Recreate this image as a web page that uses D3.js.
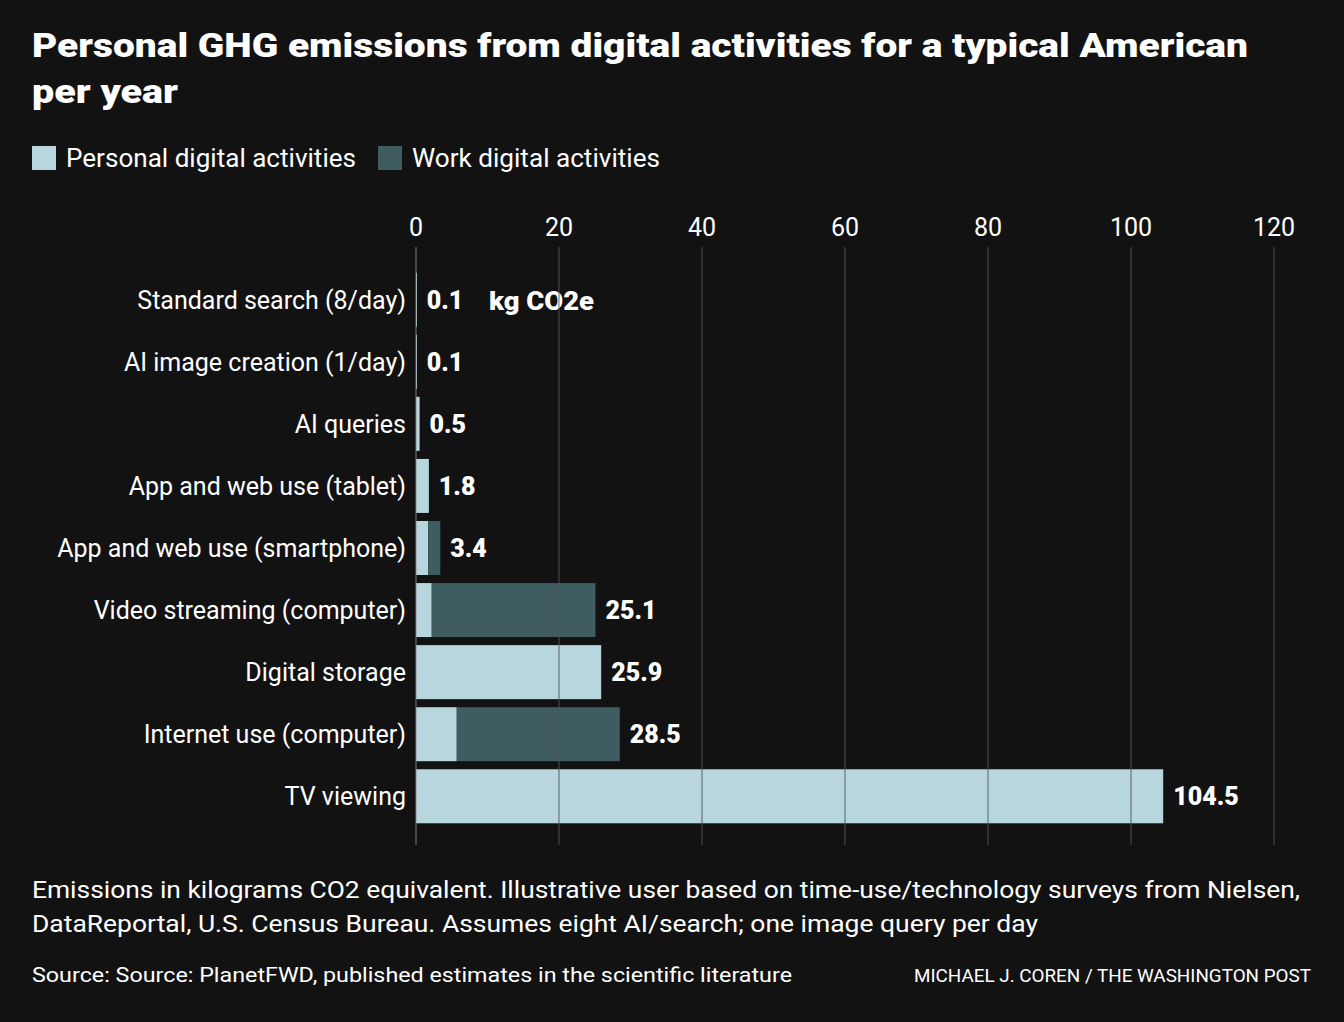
<!DOCTYPE html><html><head><meta charset="utf-8">
<script src="https://cdn.jsdelivr.net/npm/d3@7"></script>
<style>body{margin:0;background:#121212;}svg{display:block}text{font-family:Roboto,"Open Sans",sans-serif}</style></head><body>
<script>
const categories=["Standard search (8/day)","AI image creation (1/day)","AI queries","App and web use (tablet)","App and web use (smartphone)","Video streaming (computer)","Digital storage","Internet use (computer)","TV viewing"];
const personal=[0.1,0.1,0.5,1.8,1.7,2.2,25.9,5.7,104.5];
const work=[0,0,0,0,1.7,22.9,0,22.8,0];
const totals=["0.1","0.1","0.5","1.8","3.4","25.1","25.9","28.5","104.5"];
const ticks=[0,20,40,60,80,100,120];
const W=1344,H=1022;
const svg=d3.select("body").append("svg").attr("width",W).attr("height",H);
svg.append("rect").attr("width",W).attr("height",H).attr("fill","#121212");
const t=svg.append("text").attr("fill","#fff").attr("font-size",33).attr("font-weight",900);
t.append("tspan").attr("x",32).attr("y",57).attr("textLength",1216).attr("lengthAdjust","spacingAndGlyphs").text("Personal GHG emissions from digital activities for a typical American");
t.append("tspan").attr("x",32).attr("y",103).attr("textLength",146).attr("lengthAdjust","spacingAndGlyphs").text("per year");
const leg=[["Personal digital activities","#b8d6de",32,290],["Work digital activities","#3f5c61",378,248]];
leg.forEach(([l,c,x,w])=>{svg.append("rect").attr("x",x).attr("y",146).attr("width",24).attr("height",24).attr("fill",c);
svg.append("text").attr("x",x+34).attr("y",167).attr("fill","#fff").attr("font-size",25).attr("textLength",w).attr("lengthAdjust","spacingAndGlyphs").text(l);});
const x=d3.scaleLinear().domain([0,120]).range([416,1274]);
const y=d3.scaleBand().domain(categories).range([269,827]).paddingInner(0.13).paddingOuter(0.06);
svg.selectAll(".tk").data(ticks).join("text").attr("x",d=>x(d)).attr("y",236).attr("text-anchor","middle").attr("fill","#fff").attr("font-size",25).text(d=>d);
const g=svg.append("g");
categories.forEach((c,i)=>{
 g.append("rect").attr("x",x(0)).attr("y",y(c)).attr("width",Math.max(1,x(personal[i])-x(0))).attr("height",y.bandwidth()).attr("fill","#b8d6de");
 if(work[i]>0)g.append("rect").attr("x",x(personal[i])).attr("y",y(c)).attr("width",x(personal[i]+work[i])-x(personal[i])).attr("height",y.bandwidth()).attr("fill","#3f5c61");
 const tot=personal[i]+work[i];
 svg.append("text").attr("x",x(tot)+10).attr("y",y(c)+y.bandwidth()/2+9).attr("fill","#fff").attr("font-size",25).attr("font-weight",900).text(totals[i]);
 svg.append("text").attr("x",406).attr("y",y(c)+y.bandwidth()/2+9).attr("text-anchor","end").attr("fill","#fff").attr("font-size",25).text(c);
});
svg.append("text").attr("x",489).attr("y",y(categories[0])+y.bandwidth()/2+10).attr("fill","#fff").attr("font-size",25).attr("font-weight",900).attr("textLength",105).attr("lengthAdjust","spacingAndGlyphs").text("kg CO2e");
svg.selectAll(".gl").data(ticks).join("line").attr("x1",d=>x(d)).attr("x2",d=>x(d)).attr("y1",247).attr("y2",845).attr("stroke",d=>d===0?"#888":"#555").attr("stroke-opacity",0.7).attr("stroke-width",1.3);
const n=svg.append("text").attr("fill","#fff").attr("font-size",24);
n.append("tspan").attr("x",32).attr("y",898).attr("textLength",1268).attr("lengthAdjust","spacingAndGlyphs").text("Emissions in kilograms CO2 equivalent. Illustrative user based on time-use/technology surveys from Nielsen,");
n.append("tspan").attr("x",32).attr("y",932).attr("textLength",1006).attr("lengthAdjust","spacingAndGlyphs").text("DataReportal, U.S. Census Bureau. Assumes eight AI/search; one image query per day");
svg.append("text").attr("x",32).attr("y",982).attr("fill","#fff").attr("font-size",21).attr("textLength",760).attr("lengthAdjust","spacingAndGlyphs").text("Source: Source: PlanetFWD, published estimates in the scientific literature");
svg.append("text").attr("x",914).attr("y",982).attr("fill","#fff").attr("font-size",19).attr("textLength",397).attr("lengthAdjust","spacingAndGlyphs").text("MICHAEL J. COREN / THE WASHINGTON POST");
</script></body></html>
